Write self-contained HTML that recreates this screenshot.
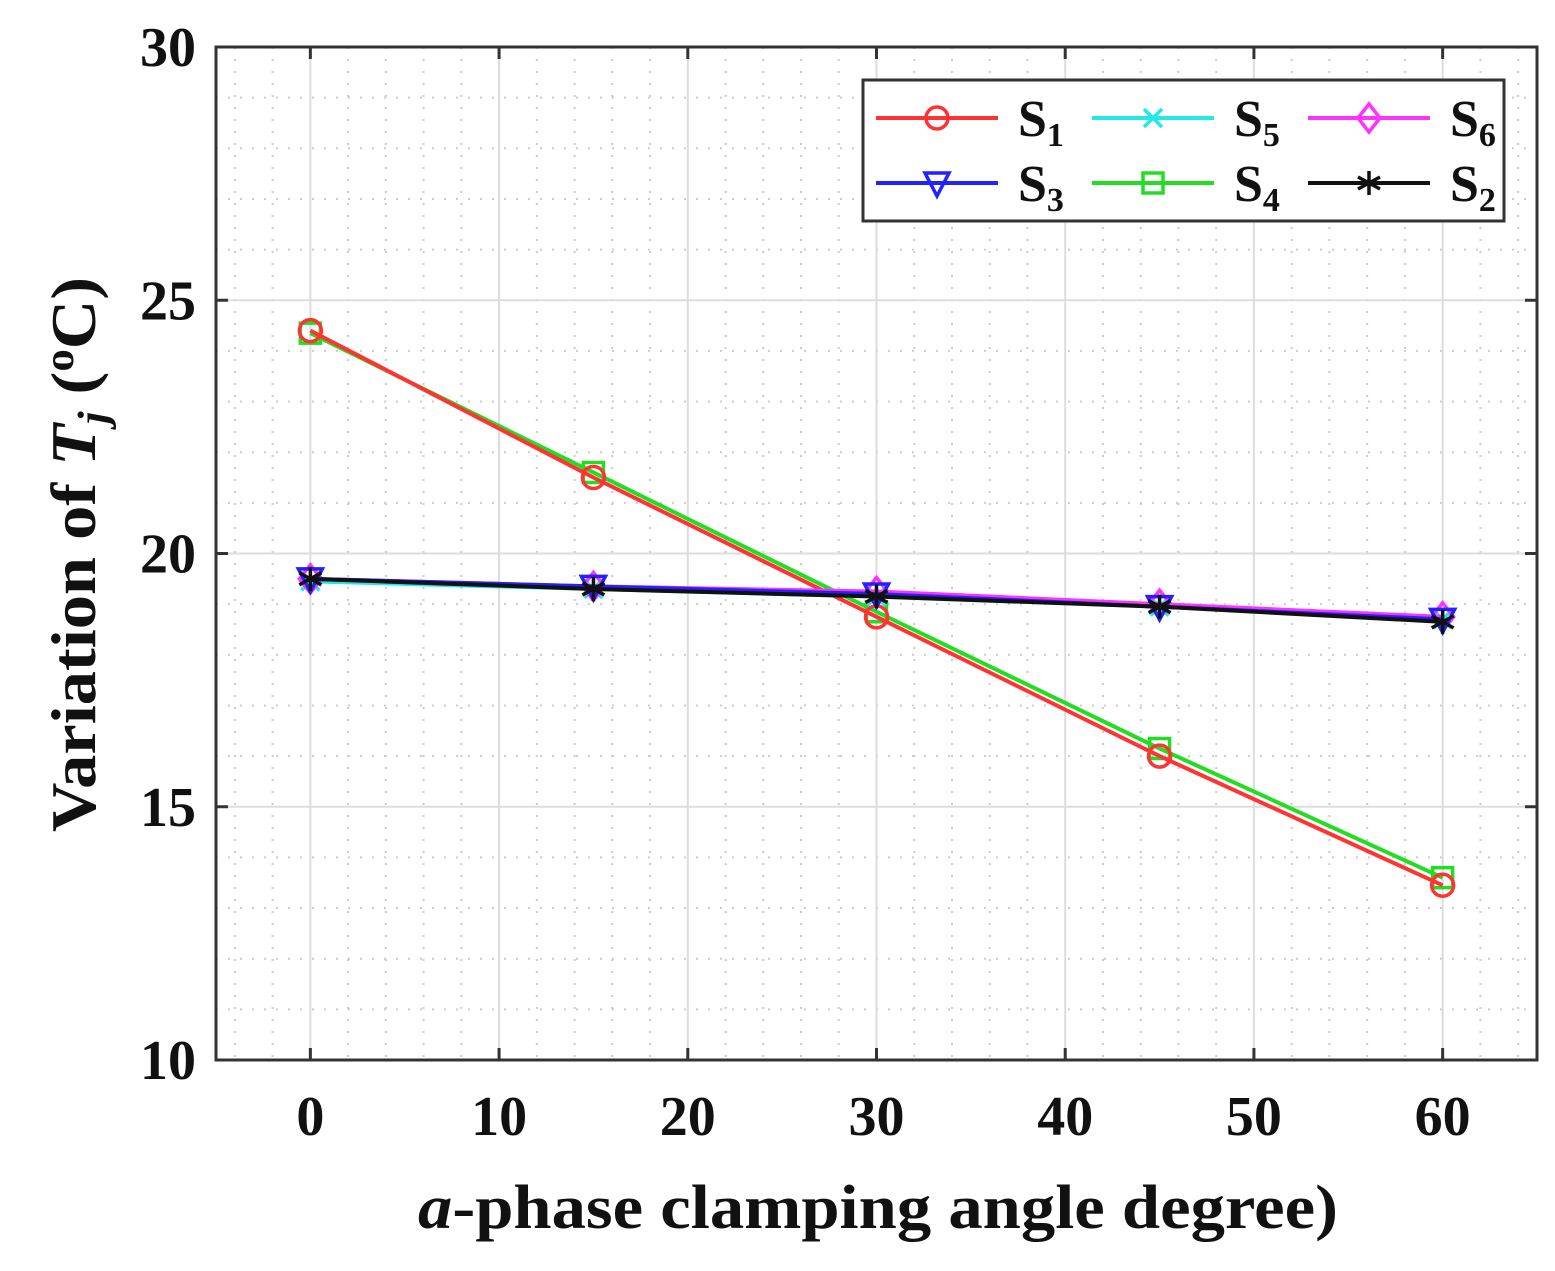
<!DOCTYPE html>
<html><head><meta charset="utf-8"><style>
body{margin:0;background:#fff;}
svg{display:block;font-family:"Liberation Serif",serif;font-weight:bold;}
</style></head><body>
<svg id="chart" width="1555" height="1271" viewBox="0 0 1555 1271">
<g id="grid"></g>
<g id="series"></g>
<rect x="216" y="47" width="1321" height="1013" fill="none" stroke="#333" stroke-width="3"/>
<g id="ticks" font-size="56" fill="#111"></g>
<text x="418" y="1228" font-size="62" textLength="920" lengthAdjust="spacingAndGlyphs" fill="#111"><tspan font-style="italic">a</tspan>-phase clamping angle degree)</text>
<text transform="translate(95,832) rotate(-90)" font-size="64" textLength="555" lengthAdjust="spacingAndGlyphs" fill="#111">Variation of <tspan font-style="italic">T</tspan><tspan font-style="italic" font-size="42" dy="12">j</tspan><tspan dy="-12"> (</tspan><tspan font-size="42" dy="-22">o</tspan><tspan dy="22">C)</tspan></text>
<g id="legend">
<rect x="863" y="80" width="641" height="141" fill="#fff" stroke="#333" stroke-width="3"/>
</g>
</svg>
<script>
const xValues=[0,15,30,45,60];
const seriesNames=["S1","S5","S6","S3","S4","S2"];
const s1=[24.4,21.5,18.75,16.0,13.45];
const s4=[24.35,21.6,18.85,16.15,13.6];
const s5=[19.45,19.3,19.15,18.95,18.7];
const s6=[19.5,19.35,19.25,19.0,18.75];
const s3=[19.5,19.35,19.2,18.95,18.7];
const s2=[19.5,19.3,19.15,18.95,18.65];
const xTicks=[0,10,20,30,40,50,60];
const yTicks=[10,15,20,25,30];
const NS="http://www.w3.org/2000/svg";
const L=216,R=1537,T=47,B=1060;
function sx(v){return L+(v+5)/70*(R-L);}
function sy(v){return B-(v-10)/20*(B-T);}
function mk(tag,attrs,parent){const e=document.createElementNS(NS,tag);for(const k in attrs)e.setAttribute(k,attrs[k]);parent.appendChild(e);return e;}
const grid=document.getElementById('grid');
for(let v=-4;v<=64;v+=2){if(v%10===0)continue;const e=mk('line',{x1:sx(v),x2:sx(v),y1:T,y2:B,stroke:'#ccc','stroke-width':2,'stroke-dasharray':'2,10'},grid);

}
for(let v=11;v<30;v++){if(v%5===0)continue;const e=mk('line',{x1:L,x2:R,y1:sy(v),y2:sy(v),stroke:'#ccc','stroke-width':2,'stroke-dasharray':'2,10'},grid);

}
const tk=document.getElementById('ticks');
xTicks.forEach(v=>{const e=mk('line',{x1:sx(v),x2:sx(v),y1:T,y2:B,stroke:'#ddd','stroke-width':2},grid);


for(const [a,b] of [[T,T+12],[B-12,B]]){const t=mk('line',{x1:sx(v),x2:sx(v),y1:a,y2:b,stroke:'#333','stroke-width':3},grid);

}
const l=mk('text',{x:sx(v),y:1135,'text-anchor':'middle'},tk);l.textContent=v;

});
yTicks.forEach(v=>{const e=mk('line',{x1:L,x2:R,y1:sy(v),y2:sy(v),stroke:'#ddd','stroke-width':2},grid);


for(const [a,b] of [[L,L+12],[R-12,R]]){const t=mk('line',{x1:a,x2:b,y1:sy(v),y2:sy(v),stroke:'#333','stroke-width':3},grid);

}
const l=mk('text',{x:196,y:sy(v)+19,'text-anchor':'end'},tk);l.textContent=v;

});
function marker(type,x,y,color,p){
 let e;const r=11;
 if(type==='o')e=mk('ellipse',{cx:x,cy:y,rx:r,ry:r,fill:'none',stroke:color,'stroke-width':3.5},p);
 else if(type==='s')e=mk('rect',{x:x-10,y:y-10,width:20,height:20,fill:'none',stroke:color,'stroke-width':3.5},p);
 else if(type==='d')e=mk('polygon',{points:`${x},${y-14} ${x+11},${y} ${x},${y+14} ${x-11},${y}`,fill:'none',stroke:color,'stroke-width':3.5},p);
 else if(type==='v')e=mk('polygon',{points:`${x-12},${y-10} ${x+12},${y-10} ${x},${y+13}`,fill:'none',stroke:color,'stroke-width':3.5},p);
 else if(type==='x')e=mk('path',{d:`M${x-9},${y-9}L${x+9},${y+9}M${x-9},${y+9}L${x+9},${y-9}`,stroke:color,'stroke-width':3.5},p);
 else e=mk('path',{d:`M${x},${y-12}V${y+12}M${x-11},${y-6}L${x+11},${y+6}M${x-11},${y+6}L${x+11},${y-6}`,stroke:color,'stroke-width':3.5},p);
 
 
}
const defs=[[s4,'#22dd22','s','S4'],[s1,'#ff3333','o','S1'],[s5,'#22e8e8','x','S5'],[s6,'#ff33ff','d','S6'],[s3,'#2222ff','v','S3'],[s2,'#111','*','S2']];
const sg=document.getElementById('series');
defs.forEach(([vals,c,m,n])=>{const g=mk('g',{},sg);


const pl=mk('polyline',{points:vals.map((v,i)=>sx(xValues[i])+','+sy(v)).join(' '),fill:'none',stroke:c,'stroke-width':4},g);


vals.forEach((v,i)=>marker(m,sx(xValues[i]),sy(v),c,g));});
const lg=document.getElementById('legend');
const leg=[['S1','#ff3333','o',0,0],['S5','#22e8e8','x',1,0],['S6','#ff33ff','d',2,0],['S3','#2222ff','v',0,1],['S4','#22dd22','s',1,1],['S2','#111','*',2,1]];
leg.forEach(([n,c,m,col,row])=>{const x0=876+col*216,y=118+row*65;const g=mk('g',{},lg);


mk('line',{x1:x0,x2:x0+122,y1:y,y2:y,stroke:c,'stroke-width':4},g);
marker(m,x0+61,y,c,g);
const t=mk('text',{x:x0+142,y:y+18,'font-size':52,fill:'#111'},g);
t.innerHTML='S<tspan font-size="34" dy="10">'+n[1]+'</tspan>';});
</script>
</body></html>
